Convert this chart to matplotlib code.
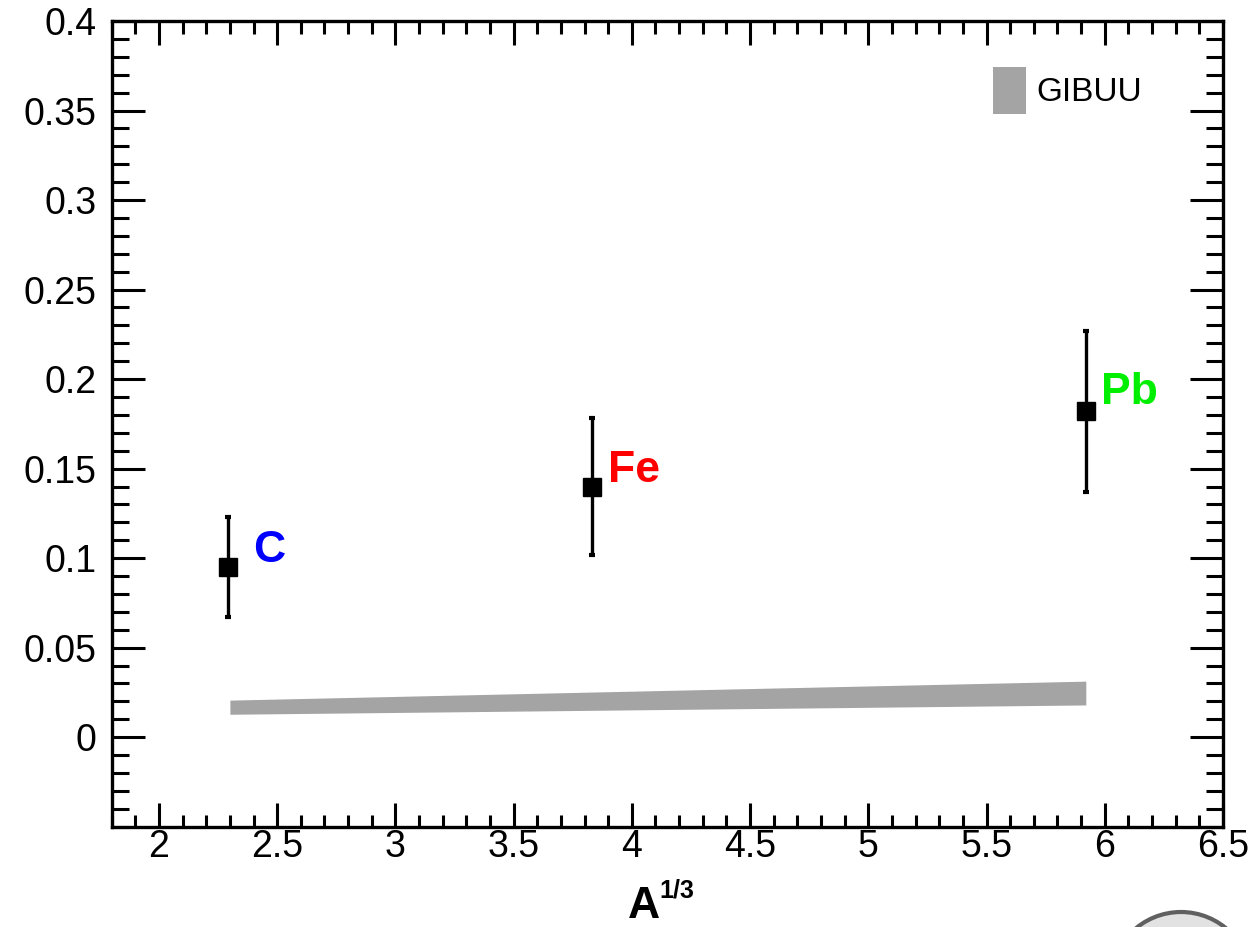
# GIBUU band vs measured points, plotted against A^(1/3)

import matplotlib
matplotlib.use('Agg')
import matplotlib.pyplot as plt
from matplotlib.patches import Circle
from matplotlib.ticker import MultipleLocator

plt.rcParams['font.family'] = ['Liberation Sans', 'DejaVu Sans']

# data points (C, Fe, Pb)
nuclei = ['C', 'Fe', 'Pb']
nuc_colors = ['#0000ff', '#ff0000', '#00ee00']
a13 = [2.29, 3.83, 5.92]
vals = [0.095, 0.140, 0.182]
errs = [0.028, 0.038, 0.045]

# GIBUU band
band_x = [2.30, 3.83, 5.92]
band_lo = [0.0128, 0.0150, 0.0180]
band_hi = [0.0207, 0.0252, 0.0313]

# ticks
xticks = [2, 2.5, 3, 3.5, 4, 4.5, 5, 5.5, 6, 6.5]
xticklabels = ['2', '2.5', '3', '3.5', '4', '4.5', '5', '5.5', '6', '6.5']
yticks = [0, 0.05, 0.1, 0.15, 0.2, 0.25, 0.3, 0.35, 0.4]
yticklabels = ['0', '0.05', '0.1', '0.15', '0.2', '0.25', '0.3', '0.35', '0.4']

fig = plt.figure(figsize=(12.52, 9.27), dpi=100)
ax = fig.add_axes([0.0892, 0.1082, 0.8876, 0.8691])

ax.fill_between(band_x, band_lo, band_hi, color='#a4a4a4', lw=0, label='GIBUU')

ax.errorbar(a13, vals, yerr=errs, fmt='s', color='black', ms=13,
            elinewidth=2.4, capsize=2.5, capthick=3)

# nucleus labels next to the points (offsets by eye)
lab_dx = [0.11, 0.07, 0.065]
lab_dy = [0.0095, 0.009, 0.0105]
for x, y, name, c, dx, dy in zip(a13, vals, nuclei, nuc_colors, lab_dx, lab_dy):
    ax.text(x + dx, y + dy, name, color=c, fontsize=32,
            fontweight='bold', va='center', ha='left')

ax.set_xlim(1.8, 6.5)
ax.set_ylim(-0.05, 0.4)
ax.set_xticks(xticks)
ax.set_xticklabels(xticklabels)
ax.set_yticks(yticks)
ax.set_yticklabels(yticklabels)
ax.xaxis.set_minor_locator(MultipleLocator(0.1))
ax.yaxis.set_minor_locator(MultipleLocator(0.01))

ax.tick_params(which='both', direction='in', top=True, right=True, width=2.2)
ax.tick_params(axis='y', which='major', length=24, labelsize=27, pad=11)
ax.tick_params(axis='y', which='minor', length=12)
ax.tick_params(axis='x', which='major', length=17, labelsize=27, pad=2)
ax.tick_params(axis='x', which='minor', length=9)
for s in ax.spines.values():
    s.set_linewidth(2.4)

ax.legend(loc='upper left', bbox_to_anchor=(0.793, 0.943), frameon=False,
          fontsize=24, handlelength=1.0, handleheight=1.8, handletextpad=0.3,
          borderpad=0, borderaxespad=0)

# x axis title A^(1/3)
fig.text(0.5016, 0.010, 'A', fontsize=32, fontweight='bold', ha='left', va='baseline')
fig.text(0.527, 0.032, '1/3', fontsize=18, fontweight='bold', ha='left', va='baseline')

# round grey button cut off at bottom right
fig.add_artist(Circle((11.81, -0.556), 0.706, transform=fig.dpi_scale_trans,
                      facecolor='#e2e2e2', edgecolor='#606060', lw=3))

fig.savefig('out.png', dpi=100)
